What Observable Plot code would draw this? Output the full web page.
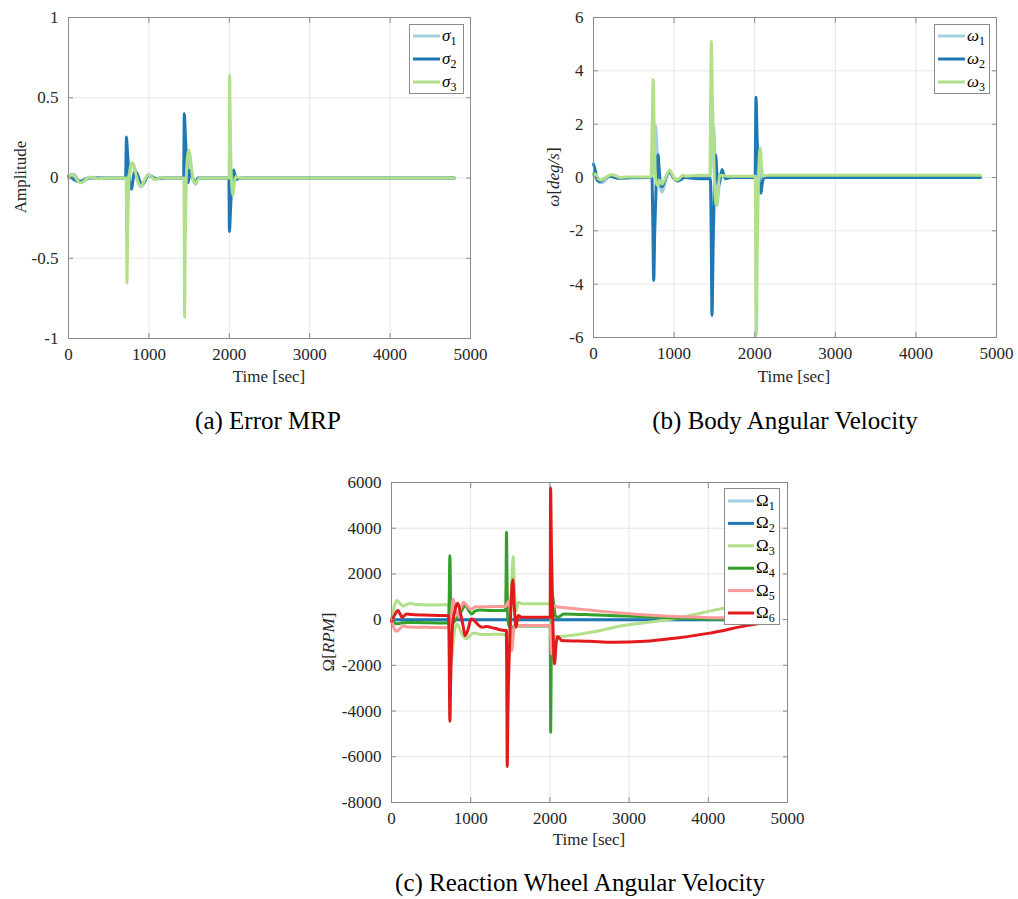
<!DOCTYPE html>
<html><head><meta charset="utf-8">
<script src="https://cdn.jsdelivr.net/npm/d3@7"></script>
<script src="https://cdn.jsdelivr.net/npm/@observablehq/plot@0.6"></script>
<style>
body{margin:0;background:#fff;}
#root{position:relative;width:1018px;height:899px;font-family:"Liberation Serif","Times New Roman","DejaVu Serif",serif;color:#262626;overflow:hidden;}
.panel{position:absolute;}
.panel svg{background:transparent !important;}
.cap{position:absolute;font-size:25px;line-height:25px;color:#000;white-space:nowrap;transform:translateX(-50%);}
.xl{position:absolute;font-size:17px;line-height:17px;white-space:nowrap;transform:translateX(-50%);}
.yl{position:absolute;font-size:17px;line-height:17px;white-space:nowrap;transform:translate(-50%,-50%) rotate(-90deg);}
.leg{position:absolute;}
</style></head>
<body><div id="root"></div>
<script>
// ---------- tick values ----------
const xTicks = [0, 1000, 2000, 3000, 4000, 5000];
const sigmaTicks = [-1, -0.5, 0, 0.5, 1];
const omegaTicks = [-6, -4, -2, 0, 2, 4, 6];
const wheelTicks = [-8000, -6000, -4000, -2000, 0, 2000, 4000, 6000];

// ---------- (a) Error MRP : [time s, value] ----------
const sigma1 = [[0,0],[40,0.025],[80,0.02],[120,-0.01],[170,-0.025],[220,-0.01],[270,0.005],[350,0],[715,0],[730,-0.05],[760,0.02],[790,0.09],[820,0.07],[860,-0.02],[905,-0.055],[940,-0.03],[990,0.02],[1040,0.01],[1100,-0.005],[1200,0],[1440,0],[1460,-0.05],[1500,0.15],[1540,0.02],[1580,-0.04],[1620,0],[2000,0],[2030,0.02],[2060,-0.02],[2100,0],[4800,0]];
const sigma2 = [[0,0.01],[30,0.005],[70,-0.01],[110,-0.02],[160,-0.02],[210,-0.005],[260,0],[400,0],[710,0],[716,0.15],[720,0.255],[735,0.15],[755,0],[775,-0.06],[785,-0.07],[800,-0.02],[820,0.04],[850,0.03],[880,-0.01],[910,-0.04],[950,-0.02],[990,0.015],[1030,0.01],[1080,-0.005],[1150,0],[1432,0],[1436,0.2],[1440,0.4],[1455,0.25],[1475,0.05],[1490,-0.03],[1510,0.05],[1530,0.02],[1560,-0.02],[1580,-0.03],[1610,0],[1995,0],[1998,-0.15],[2001,-0.334],[2015,-0.2],[2035,0],[2054,0.05],[2070,0.02],[2090,-0.01],[2120,0],[4800,0]];
const sigma3 = [[0,0],[30,0.02],[70,0.015],[110,-0.015],[160,-0.03],[210,-0.01],[260,0.005],[310,0.003],[360,-0.005],[420,-0.002],[500,0],[718,0],[722,-0.3],[727,-0.655],[735,-0.35],[750,-0.05],[770,0.07],[790,0.095],[810,0.08],[840,0.02],[870,-0.03],[903,-0.05],[930,-0.03],[960,0],[990,0.02],[1030,0.01],[1070,-0.01],[1110,-0.005],[1150,0.005],[1200,0],[1436,0],[1440,-0.4],[1444,-0.866],[1452,-0.4],[1465,0],[1485,0.15],[1499,0.175],[1520,0.1],[1545,0],[1565,-0.03],[1580,-0.035],[1600,-0.02],[1630,0],[1998,0],[2001,0.3],[2004,0.64],[2010,0.4],[2020,0.1],[2035,-0.08],[2046,-0.107],[2060,-0.05],[2080,0.01],[2110,0.005],[2200,0],[4800,0]];

// ---------- (b) Body angular velocity [deg/s] ----------
const omega1 = [[0,0.1],[40,-0.05],[80,-0.2],[130,-0.15],[200,0.05],[260,0.08],[320,0],[400,-0.02],[720,0],[740,0.5],[770,1.95],[790,1.0],[815,-0.2],[850,-0.55],[880,-0.3],[920,0.1],[950,0.2],[990,0],[1030,-0.15],[1080,-0.1],[1130,0.05],[1200,0.02],[1445,0],[1470,1.0],[1490,1.95],[1510,0.5],[1535,-0.9],[1560,-0.3],[1600,0.1],[1650,0],[2010,0],[2030,0.3],[2060,0.5],[2080,-0.2],[2110,0],[4800,0.02]];
const omega2 = [[0,0.5],[20,0.3],[45,-0.1],[80,-0.15],[110,-0.1],[160,0],[210,0.05],[260,0],[320,-0.03],[400,-0.02],[500,0],[725,0],[735,-1.5],[747,-3.86],[760,-2.0],[775,-0.5],[790,0.5],[801,0.85],[815,0.3],[830,-0.2],[850,-0.35],[880,-0.15],[920,0.15],[950,0.2],[990,0],[1030,-0.12],[1080,-0.08],[1130,0],[1200,-0.02],[1300,-0.05],[1450,-0.05],[1460,-2.0],[1470,-5.17],[1485,-2.5],[1500,-0.3],[1516,0.83],[1530,0.2],[1550,-0.3],[1570,-0.1],[1595,0.3],[1615,0.1],[1640,-0.05],[1700,0],[2005,0],[2010,1.5],[2016,3.01],[2030,1.5],[2050,0],[2065,-0.4],[2078,-0.59],[2095,-0.2],[2120,0],[4800,0]];
const omega3 = [[0,0.15],[30,0.1],[60,-0.05],[90,-0.1],[130,-0.05],[180,0.05],[230,0.1],[280,0.05],[330,0],[400,0.02],[715,0.02],[725,1.5],[740,3.67],[755,1.5],[770,0],[785,-0.25],[800,-0.3],[820,-0.1],[850,-0.25],[880,-0.1],[915,0.15],[946,0.28],[980,0.1],[1020,-0.1],[1060,-0.05],[1110,0.08],[1150,0.05],[1300,0.08],[1445,0.08],[1452,2.5],[1462,5.1],[1475,3.0],[1490,1.0],[1505,-0.5],[1520,-1.0],[1533,-1.05],[1545,-0.5],[1565,0.05],[1590,0.08],[1650,0.05],[2008,0.05],[2012,-2.5],[2020,-5.93],[2035,-2.0],[2050,0.3],[2069,1.1],[2085,0.4],[2100,0.05],[2150,0.08],[4800,0.08]];

// ---------- (c) Reaction wheel speeds [RPM] ----------
const wheel1 = [[0,0],[1000,0],[2000,0],[3000,0],[4000,0],[4800,0]];
const wheel2 = [[0,0],[1000,0],[2000,0],[3000,0],[4000,0],[4800,0]];
const wheel3 = [[0,0],[30,500],[67,835],[110,700],[152,590],[200,680],[244,718],[300,660],[400,650],[500,640],[600,650],[718,650],[728,500],[745,-800],[760,-1800],[775,-1200],[800,-400],[830,-200],[870,-500],[910,-750],[947,-840],[990,-700],[1040,-580],[1080,-620],[1150,-650],[1300,-640],[1440,-650],[1455,-900],[1470,-1500],[1490,-800],[1510,800],[1536,2760],[1555,1200],[1575,400],[1604,760],[1650,700],[1800,700],[2004,700],[2012,200],[2020,-1500],[2035,-900],[2060,-700],[2100,-750],[2134,-740],[2500,-560],[2933,-258],[3565,35],[4154,470],[4800,850]];
const wheel4 = [[0,0],[30,-120],[70,-185],[120,-150],[200,-120],[300,-130],[500,-140],[718,-150],[728,800],[737,2800],[748,500],[760,-180],[800,-50],[870,300],[934,620],[975,400],[1010,250],[1060,380],[1120,420],[1250,400],[1440,400],[1446,1500],[1452,3825],[1460,1500],[1470,0],[1490,-300],[1530,-350],[1560,-250],[1600,-280],[1800,-280],[2003,-280],[2007,-2500],[2010,-4925],[2017,-1500],[2029,1128],[2050,600],[2070,150],[2100,105],[2176,252],[2600,200],[3144,136],[3649,61],[4100,15],[4800,0]];
const wheel5 = [[0,0],[30,-350],[67,-507],[110,-380],[152,-273],[200,-320],[300,-330],[500,-340],[718,-350],[728,-300],[740,-700],[760,300],[779,900],[805,500],[840,150],[875,500],[912,760],[955,600],[1000,450],[1060,560],[1150,560],[1300,570],[1440,580],[1460,700],[1480,800],[1500,200],[1520,-1350],[1540,-600],[1560,-200],[1600,-260],[1800,-260],[2004,-260],[2010,-800],[2018,-1500],[2030,0],[2045,650],[2080,560],[2134,543],[2933,282],[3565,135],[4154,78],[4800,40]];
const wheel6 = [[0,-80],[40,200],[80,400],[135,105],[193,252],[250,220],[400,200],[600,180],[720,170],[727,-1000],[737,-4445],[748,-2500],[770,-300],[800,400],[837,718],[870,300],[905,-300],[930,-700],[960,-500],[1010,35],[1050,-50],[1100,-250],[1149,-332],[1200,-300],[1300,-380],[1440,-480],[1451,-480],[1456,-3000],[1461,-6427],[1470,-4000],[1490,-1200],[1510,800],[1532,1740],[1550,600],[1572,-332],[1598,180],[1650,100],[1800,100],[2004,100],[2006,3000],[2008,5766],[2020,3000],[2040,-500],[2058,-1934],[2080,-1000],[2100,-740],[2150,-914],[2500,-950],[2800,-990],[3200,-950],[3600,-800],[4000,-600],[4500,-250],[4800,-80]];

// ---------- styling ----------
const paired = ["#a6cee3", "#1f78b4", "#b2df8a", "#33a02c", "#fb9a99", "#e31a1c"];
const axisGray = "#8a8a8a";
const gridGray = "#e6e6e6";
const serif = "'Liberation Serif', 'Times New Roman', 'DejaVu Serif', serif";

const root = document.getElementById("root");

function makePanel(cfg) {
  const marks = [
    Plot.gridX(xTicks, {stroke: gridGray, strokeOpacity: 1}),
    Plot.gridY(cfg.yTicks, {stroke: gridGray, strokeOpacity: 1}),
    ...cfg.series.map((s, i) => Plot.line(s, {x: d => d[0], y: d => d[1], stroke: paired[i], strokeWidth: 3, curve: "monotone-x"})),
    Plot.frame({stroke: axisGray}),
    Plot.axisX(xTicks, {anchor: "bottom", tickSize: -5, tickPadding: 14, stroke: axisGray, fill: "#262626", tickFormat: d => String(d), label: null}),
    Plot.axisX(xTicks, {anchor: "top", tickSize: -5, stroke: axisGray, text: null, label: null}),
    Plot.axisY(cfg.yTicks, {anchor: "left", tickSize: -5, tickPadding: 15, stroke: axisGray, fill: "#262626", tickFormat: d => String(d), label: null}),
    Plot.axisY(cfg.yTicks, {anchor: "right", tickSize: -5, stroke: axisGray, text: null, label: null})
  ];
  const svg = Plot.plot({
    width: cfg.width, height: cfg.height,
    marginLeft: cfg.ml, marginRight: cfg.mr, marginTop: cfg.mt, marginBottom: cfg.mb,
    x: {domain: [0, 5000]},
    y: {domain: cfg.yDomain},
    style: {fontFamily: serif, fontSize: "17px", color: "#262626", background: "transparent", overflow: "visible"},
    marks
  });
  svg.querySelectorAll("text").forEach(t => t.setAttribute("font-family", serif));
  const div = document.createElement("div");
  div.className = "panel";
  div.style.left = cfg.left + "px";
  div.style.top = cfg.top + "px";
  div.style.width = cfg.width + "px";
  div.style.height = cfg.height + "px";
  div.appendChild(svg);
  root.appendChild(div);
}

function addLegend(cfg) {
  const n = cfg.names.length;
  let s = `<svg width="${cfg.w + 1}" height="${cfg.h + 1}" style="overflow:visible">`;
  s += `<rect x="0.5" y="0.5" width="${cfg.w}" height="${cfg.h}" fill="#fff" stroke="${axisGray}" stroke-width="1"/>`;
  for (let i = 0; i < n; i++) {
    const y = cfg.y0 + i * cfg.step;
    s += `<line x1="4" x2="${cfg.lineEnd}" y1="${y}" y2="${y}" stroke="${paired[i]}" stroke-width="3"/>`;
    s += `<text x="${cfg.lineEnd + 2}" y="${y + 5}" font-family="${serif}" font-size="17" fill="#000">` +
         `<tspan font-style="${cfg.italic ? "italic" : "normal"}">${cfg.sym}</tspan>` +
         `<tspan font-size="12" dy="4">${cfg.names[i]}</tspan></text>`;
  }
  s += `</svg>`;
  const d = document.createElement("div");
  d.className = "leg";
  d.style.left = cfg.left + "px";
  d.style.top = cfg.top + "px";
  d.innerHTML = s;
  root.appendChild(d);
}

function addText(cls, left, top, html) {
  const d = document.createElement("div");
  d.className = cls;
  d.style.left = left + "px";
  d.style.top = top + "px";
  d.innerHTML = html;
  root.appendChild(d);
}

// panels
makePanel({left: 0, top: 0, width: 490, height: 400, ml: 68, mr: 20, mt: 17, mb: 62,
  yDomain: [-1, 1], yTicks: sigmaTicks, series: [sigma1, sigma2, sigma3]});
makePanel({left: 520, top: 0, width: 498, height: 400, ml: 73, mr: 22, mt: 17, mb: 63,
  yDomain: [-6, 6], yTicks: omegaTicks, series: [omega1, omega2, omega3]});
makePanel({left: 300, top: 460, width: 520, height: 400, ml: 91, mr: 33, mt: 22, mb: 58,
  yDomain: [-8000, 6000], yTicks: wheelTicks, series: [wheel1, wheel2, wheel3, wheel4, wheel5, wheel6]});

// legends
addLegend({left: 409, top: 24, w: 54, h: 69, y0: 12, step: 23, lineEnd: 31, sym: "σ", italic: true, names: ["1", "2", "3"]});
addLegend({left: 934, top: 24, w: 55, h: 69, y0: 12, step: 23, lineEnd: 31, sym: "ω", italic: true, names: ["1", "2", "3"]});
addLegend({left: 724, top: 488, w: 55, h: 136, y0: 13, step: 22.4, lineEnd: 30, sym: "Ω", italic: false, names: ["1", "2", "3", "4", "5", "6"]});

// axis titles
addText("xl", 269, 368, "Time [sec]");
addText("xl", 794, 368, "Time [sec]");
addText("xl", 589, 831, "Time [sec]");
addText("yl", 20, 177, "Amplitude");
addText("yl", 553, 177, "<i>ω</i>[<i>deg/s</i>]");
addText("yl", 328, 642, "Ω[<i>RPM</i>]");

// captions
addText("cap", 268, 408, "(a) Error MRP");
addText("cap", 785, 408, "(b) Body Angular Velocity");
addText("cap", 580, 870, "(c) Reaction Wheel Angular Velocity");
</script>
</body></html>
